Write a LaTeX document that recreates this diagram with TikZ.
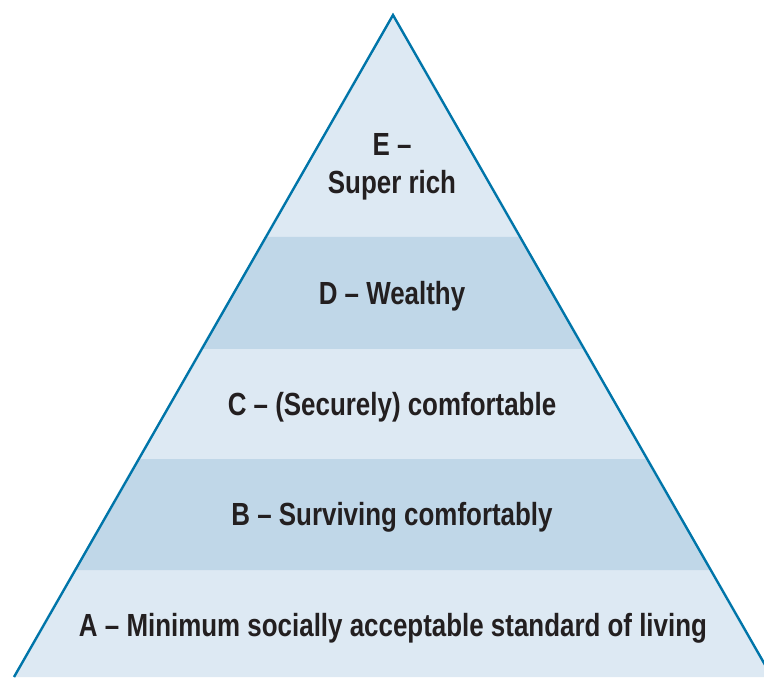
\documentclass[tikz,border=0pt]{standalone}
\usepackage{fontspec}
\setmainfont{Liberation Sans}[FakeStretch=0.81]
\usetikzlibrary{calc}
\definecolor{bandlight}{HTML}{DDE9F3}
\definecolor{banddark}{HTML}{C0D7E8}
\definecolor{edgeblue}{HTML}{0075A9}
\definecolor{tiertext}{HTML}{231F20}

\begin{document}
\begin{tikzpicture}[x=0.5pt,y=-0.5pt,
        tierlabel/.style={text=tiertext,font=\bfseries\fontsize{16}{19}\selectfont,align=center,inner sep=0pt}]
        \useasboundingbox (0,0) rectangle (764,677);
        \clip (0,0) rectangle (764,677);
        \coordinate (apex) at (393,15);
        \coordinate (bl) at (14,677);
        \coordinate (br) at (772,677);
        % bands
        \fill[bandlight] (apex) -- (bl) -- (br) -- cycle;
        \foreach \a/\b in {0.3353/0.5045, 0.6707/0.8384}
            \fill[banddark] ($(apex)!\a!(bl)$) -- ($(apex)!\b!(bl)$) -- ($(apex)!\b!(br)$) -- ($(apex)!\a!(br)$) -- cycle;
        \draw[edgeblue, line width=1.2pt, line join=miter] (bl) -- (apex) -- (br);
        % labels
        \node[tierlabel] (superrich) at (392,167) {E --\\Super rich};
        \node[tierlabel] (wealthy) at (392,296) {D -- Wealthy};
        \node[tierlabel] (comfortable) at (392,407) {C -- (Securely) comfortable};
        \node[tierlabel] (surviving) at (392,517) {B -- Surviving comfortably};
        \node[tierlabel] (minimum) at (393,628) {A -- Minimum socially acceptable standard of living};
\end{tikzpicture}
\end{document}
